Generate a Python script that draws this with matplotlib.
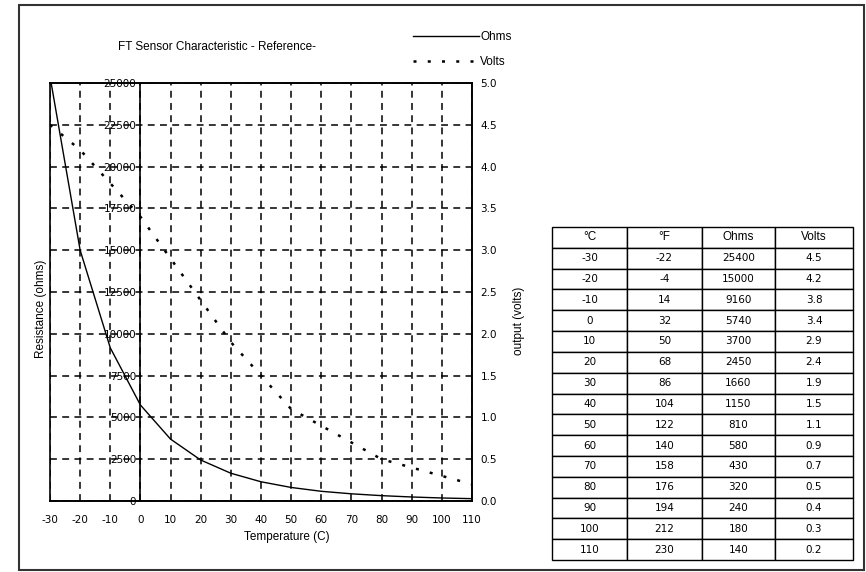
import numpy as np
import matplotlib
matplotlib.use("Agg")
import matplotlib.pyplot as plt
from matplotlib.patches import Rectangle
from matplotlib.lines import Line2D

plt.rcParams['font.family'] = ['DejaVu Sans']
plt.rcParams['font.size'] = 7.5
WORD_FONT = ['Liberation Sans', 'DejaVu Sans']

# sensor table data
temp_c = [-30, -20, -10, 0, 10, 20, 30, 40, 50, 60, 70, 80, 90, 100, 110]
temp_f = [-22, -4, 14, 32, 50, 68, 86, 104, 122, 140, 158, 176, 194, 212, 230]
ohms = [25400, 15000, 9160, 5740, 3700, 2450, 1660, 1150, 810, 580, 430, 320, 240, 180, 140]
volts = [4.5, 4.2, 3.8, 3.4, 2.9, 2.4, 1.9, 1.5, 1.1, 0.9, 0.7, 0.5, 0.4, 0.3, 0.2]

x_ticks = list(range(-30, 111, 10))
ohm_ticks = list(range(0, 25001, 2500))
volt_ticks = [i * 0.5 for i in range(11)]

W, H = 866, 572
fig = plt.figure(figsize=(W / 100, H / 100), dpi=100)

# outer frame
fig.add_artist(Rectangle((19 / W, 1 - 570 / H), (864 - 19) / W, (570 - 5) / H,
                         transform=fig.transFigure, fill=False, ec='#333333', lw=1.5))

ax = fig.add_axes([50 / W, 1 - 501 / H, 422 / W, 418 / H])
ax2 = ax.twinx()

ax.plot(temp_c, ohms, color='k', lw=1.0)
ax2.plot(temp_c, volts, color='k', lw=1.8, ls=(0, (1.2, 4.5)))

ax.set_xlim(-30, 110)
ax.set_ylim(0, 25000)
ax2.set_ylim(0, 5)
ax.set_xticks(x_ticks)
ax.set_xticklabels([str(t) for t in x_ticks])
ax.set_yticks(ohm_ticks)
ax.set_yticklabels([str(t) for t in ohm_ticks])
ax2.set_yticks(volt_ticks)
ax2.set_yticklabels(['%.1f' % v for v in volt_ticks])

ax.spines['left'].set_position(('data', 0))
for sp in list(ax.spines.values()) + list(ax2.spines.values()):
    sp.set_linewidth(1.2)
ax.tick_params(axis='y', length=0, pad=3)
ax.tick_params(axis='x', length=0, pad=10)
ax2.tick_params(axis='y', length=0, pad=6)

ax.grid(True, ls=(0, (4.5, 3.5)), color='k', lw=1.1)

ax.set_xlabel('Temperature (C)', fontsize=8.5, family=WORD_FONT)
ax.xaxis.set_label_coords(0.56, -0.072)
ax.set_ylabel('Resistance (ohms)', fontsize=8.5, family=WORD_FONT)
ax.yaxis.set_label_coords(-3 / 422, 0.46)
ax2.set_ylabel('output (volts)', fontsize=8.5, family=WORD_FONT)
ax2.yaxis.set_label_coords(1 + 41 / 422, 0.43)

fig.text(217 / W, 1 - 47 / H, 'FT Sensor Characteristic - Reference-', ha='center', va='center',
         fontsize=8.5, family=WORD_FONT)

handles = [Line2D([], [], color='k', lw=1.0),
           Line2D([], [], color='k', lw=1.8, ls=(0, (1.2, 4.5)))]
fig.legend(handles, ['Ohms', 'Volts'], loc='upper left', bbox_to_anchor=(413 / W, 1 - 31 / H),
           frameon=False, borderpad=0, borderaxespad=0, handlelength=5.6, handletextpad=0.1,
           labelspacing=1.1, prop={'family': WORD_FONT, 'size': 8.5})

# data table
tax = fig.add_axes([552 / W, 1 - 560 / H, 301 / W, 333 / H])
tax.axis('off')
cells = [[str(c), str(f), str(o), str(v)] for c, f, o, v in zip(temp_c, temp_f, ohms, volts)]
tbl = tax.table(cellText=cells, colLabels=['°C', '°F', 'Ohms', 'Volts'],
                colWidths=[75, 75, 73, 78], cellLoc='center', bbox=[0, 0, 1, 1])
tbl.auto_set_font_size(False)
tbl.set_fontsize(7.5)
for (r, c), cell in tbl.get_celld().items():
    cell.set_linewidth(1.0)
    cell.set_edgecolor('k')
    if r == 0:
        cell.get_text().set_fontfamily(WORD_FONT)
        cell.get_text().set_fontsize(8.5)

fig.savefig('out.png', dpi=100)
